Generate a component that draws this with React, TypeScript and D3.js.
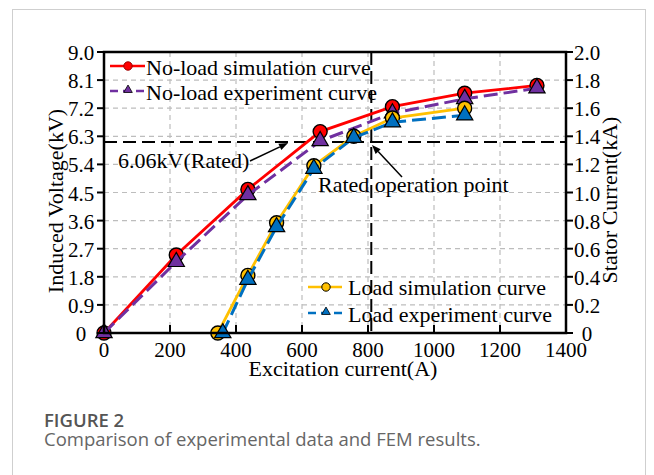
import React from "react";
import * as d3 from "d3";

const xTicks = [0, 200, 400, 600, 800, 1000, 1200, 1400];
const yLeftTicks = [0, 0.9, 1.8, 2.7, 3.6, 4.5, 5.4, 6.3, 7.2, 8.1, 9.0];
const yLeftLabels = ["0", "0.9", "1.8", "2.7", "3.6", "4.5", "5.4", "6.3", "7.2", "8.1", "9.0"];
const yRightTicks = [0, 0.2, 0.4, 0.6, 0.8, 1.0, 1.2, 1.4, 1.6, 1.8, 2.0];
const yRightLabels = ["0", "0.2", "0.4", "0.6", "0.8", "1.0", "1.2", "1.4", "1.6", "1.8", "2.0"];

const noLoadX = [0, 219, 436, 655, 874, 1093, 1312];
const noLoadSim = [0, 2.5, 4.6, 6.45, 7.25, 7.68, 7.93];
const noLoadExp = [0, 2.28, 4.42, 6.15, 7.04, 7.5, 7.84];

const loadSimX = [345, 436, 523, 636, 757, 874, 1093];
const loadSim = [0, 0.41, 0.785, 1.19, 1.4, 1.53, 1.6];
const loadExpX = [360, 436, 523, 636, 757, 874, 1093];
const loadExp = [0, 0.38, 0.755, 1.17, 1.39, 1.5, 1.55];

const ratedCurrent = 810;
const ratedVoltage = 6.12;

const SERIF = "'Liberation Serif', 'Times New Roman', serif";
const SANS = "'Open Sans', 'Noto Sans', sans-serif";

export default function App() {
  const W = 654, H = 475;
  const L = 104, R = 566, T = 52, B = 333;
  const x = d3.scaleLinear().domain([0, 1400]).range([L, R]);
  const yL = d3.scaleLinear().domain([0, 9]).range([B, T]);
  const yR = d3.scaleLinear().domain([0, 2]).range([B, T]);

  const lineL = d3.line<[number, number]>().x((d) => x(d[0])).y((d) => yL(d[1]));
  const lineR = d3.line<[number, number]>().x((d) => x(d[0])).y((d) => yR(d[1]));

  const zip = (a: number[], b: number[]) => a.map((v, i) => [v, b[i]] as [number, number]);
  const tri = d3.symbol().type(d3.symbolTriangle).size(115)() as string;
  const triSmall = d3.symbol().type(d3.symbolTriangle).size(32)() as string;

  const red = "#ff0000", purple = "#7030a0", yellow = "#ffc000", blue = "#0070c0";

  const arrow = (x1: number, y1: number, x2: number, y2: number) => {
    const ang = Math.atan2(y2 - y1, x2 - x1);
    const len = 9, w = 3.5;
    const bx = x2 - len * Math.cos(ang), by = y2 - len * Math.sin(ang);
    const px = -Math.sin(ang) * w, py = Math.cos(ang) * w;
    return (
      <g>
        <line x1={x1} y1={y1} x2={bx} y2={by} stroke="#000" strokeWidth={1.5} />
        <path d={`M${x2},${y2}L${bx + px},${by + py}L${bx - px},${by - py}Z`} fill="#000" />
      </g>
    );
  };

  return (
    <svg width={W} height={H} style={{ position: "absolute", left: 0, top: 0, background: "#fff" }}>
      <rect x={12.5} y={9.5} width={633} height={480} fill="#fff" stroke="#cfcfcf" strokeWidth={1} />
      {/* grid */}
      {xTicks.slice(1, -1).map((t) => (
        <line key={"gx" + t} x1={x(t)} x2={x(t)} y1={T} y2={B} stroke="#bdbdbd" strokeWidth={1.2} strokeDasharray="5,4" />
      ))}
      {yLeftTicks.slice(1, -1).map((t) => (
        <line key={"gy" + t} x1={L} x2={R} y1={yL(t)} y2={yL(t)} stroke="#bdbdbd" strokeWidth={1.2} strokeDasharray="5,4" />
      ))}
      {/* rated lines */}
      <line x1={L} x2={R} y1={yL(ratedVoltage)} y2={yL(ratedVoltage)} stroke="#000" strokeWidth={2} strokeDasharray="13,6" />
      <line x1={x(ratedCurrent)} x2={x(ratedCurrent)} y1={T} y2={B} stroke="#000" strokeWidth={2} strokeDasharray="13,6" />

      {/* no-load simulation */}
      <path d={lineL(zip(noLoadX, noLoadSim)) as string} fill="none" stroke={red} strokeWidth={2.8} />
      {noLoadX.map((v, i) => (
        <circle key={"rs" + i} cx={x(v)} cy={yL(noLoadSim[i])} r={7} fill={red} stroke="#000" strokeWidth={1.4} />
      ))}
      {/* no-load experiment */}
      <path d={lineL(zip(noLoadX, noLoadExp)) as string} fill="none" stroke={purple} strokeWidth={3} strokeDasharray="14,6" />
      {noLoadX.map((v, i) => (
        <path key={"pe" + i} d={tri} transform={`translate(${x(v)},${yL(noLoadExp[i])})`} fill={purple} stroke="#000" strokeWidth={1.2} />
      ))}
      {/* load simulation */}
      <path d={lineR(zip(loadSimX, loadSim)) as string} fill="none" stroke={yellow} strokeWidth={2.8} />
      {loadSimX.map((v, i) => (
        <circle key={"ys" + i} cx={x(v)} cy={yR(loadSim[i])} r={7} fill={yellow} stroke="#000" strokeWidth={1.4} />
      ))}
      {/* load experiment */}
      <path d={lineR(zip(loadExpX, loadExp)) as string} fill="none" stroke={blue} strokeWidth={3} strokeDasharray="14,6" />
      {loadExpX.map((v, i) => (
        <path key={"be" + i} d={tri} transform={`translate(${x(v)},${yR(loadExp[i])})`} fill={blue} stroke="#000" strokeWidth={1.2} />
      ))}

      {/* axes box */}
      <rect x={L} y={T} width={R - L} height={B - T} fill="none" stroke="#000" strokeWidth={2.5} />
      {yLeftTicks.map((t, i) => (
        <g key={"yl" + t}>
          <line x1={L - 7} x2={L} y1={yL(t)} y2={yL(t)} stroke="#000" strokeWidth={2} />
          <text x={81} y={yL(t) + 8} textAnchor="middle" fontFamily={SERIF} fontSize={21}>{yLeftLabels[i]}</text>
        </g>
      ))}
      {yRightTicks.map((t, i) => (
        <g key={"yr" + t}>
          <line x1={R} x2={R + 7} y1={yR(t)} y2={yR(t)} stroke="#000" strokeWidth={2} />
          <text x={587} y={yR(t) + 8} textAnchor="middle" fontFamily={SERIF} fontSize={21}>{yRightLabels[i]}</text>
        </g>
      ))}
      {xTicks.map((t) => (
        <g key={"xt" + t}>
          <line x1={x(t)} x2={x(t)} y1={B} y2={B - 8} stroke="#000" strokeWidth={2} />
          <text x={x(t)} y={357} textAnchor="middle" fontFamily={SERIF} fontSize={21}>{t}</text>
        </g>
      ))}

      {/* axis titles */}
      <text x={343} y={376} textAnchor="middle" fontFamily={SERIF} fontSize={22}>Excitation current(A)</text>
      <text transform="translate(63,201) rotate(-90)" textAnchor="middle" fontFamily={SERIF} fontSize={22}>Induced Voltage(kV)</text>
      <text transform="translate(617,200) rotate(-90)" textAnchor="middle" fontFamily={SERIF} fontSize={22}>Stator Current(kA)</text>

      {/* annotations */}
      <text x={118} y={168} fontFamily={SERIF} fontSize={22}>6.06kV(Rated)</text>
      {arrow(250, 161, 288, 143)}
      <text x={318} y={192} fontFamily={SERIF} fontSize={22}>Rated operation point</text>
      {arrow(402, 177, 372, 145)}

      {/* top legend */}
      <line x1={110} x2={145} y1={66} y2={66} stroke={red} strokeWidth={2.4} />
      <circle cx={128} cy={66} r={4.2} fill={red} stroke="#900" strokeWidth={1} />
      <text x={146} y={75} fontFamily={SERIF} fontSize={22}>No-load simulation curve</text>
      <line x1={110} x2={145} y1={91} y2={91} stroke={purple} strokeWidth={2.4} strokeDasharray="8,5" />
      <path d={triSmall} transform="translate(128,90)" fill={purple} stroke="#000" strokeWidth={0.8} />
      <text x={146} y={100} fontFamily={SERIF} fontSize={22}>No-load experiment curve</text>

      {/* bottom legend */}
      <line x1={308} x2={342} y1={287} y2={287} stroke={yellow} strokeWidth={2.4} />
      <circle cx={326} cy={287} r={4.2} fill={yellow} stroke="#000" strokeWidth={1} />
      <text x={348} y={295} fontFamily={SERIF} fontSize={22}>Load simulation curve</text>
      <line x1={308} x2={342} y1={313} y2={313} stroke={blue} strokeWidth={2.4} strokeDasharray="8,5" />
      <path d={triSmall} transform="translate(326,312)" fill={blue} stroke="#000" strokeWidth={0.8} />
      <text x={348} y={322} fontFamily={SERIF} fontSize={22}>Load experiment curve</text>

      {/* caption */}
      <text x={44} y={427} fontFamily={SANS} fontWeight={600} fontSize={18.5} fill="#555">FIGURE 2</text>
      <text x={44} y={446} fontFamily={SANS} fontSize={18.5} fill="#666">Comparison of experimental data and FEM results.</text>
    </svg>
  );
}
